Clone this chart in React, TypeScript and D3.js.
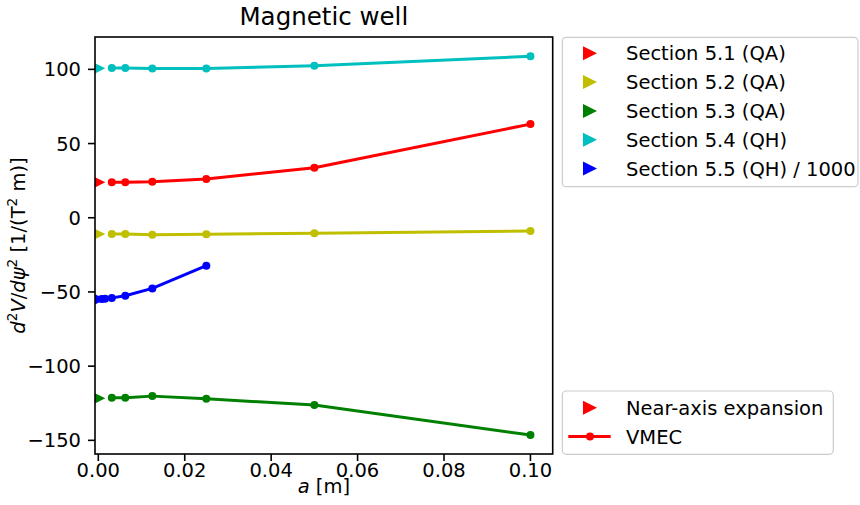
import React from "react";
import * as d3 from "d3";

const xVmec = [0.003125, 0.00625, 0.0125, 0.025, 0.05, 0.1];
const xVmecBlue = [0.00078125, 0.0015625, 0.003125, 0.00625, 0.0125, 0.025];

const sectionLabels = [
  "Section 5.1 (QA)",
  "Section 5.2 (QA)",
  "Section 5.3 (QA)",
  "Section 5.4 (QH)",
  "Section 5.5 (QH) / 1000",
];
const sectionColors = ["#ff0000", "#bfbf00", "#008000", "#00bfbf", "#0000ff"];
const nearAxis = [23.9, -11.0, -121.7, 100.7, -55.0];
const vmec51 = [23.9, 23.9, 24.3, 26.1, 33.7, 63.1];
const vmec52 = [-11.0, -11.0, -11.4, -11.1, -10.5, -9.0];
const vmec53 = [-121.3, -121.3, -120.2, -122.0, -126.2, -146.4];
const vmec54 = [100.9, 100.9, 100.6, 100.6, 102.4, 108.8];
const vmec55 = [-54.8, -54.5, -54.0, -52.6, -47.6, -32.3];

const xTicks = [0, 0.02, 0.04, 0.06, 0.08, 0.1];
const yTicks = [100, 50, 0, -50, -100, -150];

const W = 860;
const H = 505;
const L = 95, R = 552.7, T = 37, B = 454;
const FONT = "DejaVu Sans, sans-serif";
const FS = 19.5;

export default function App() {
  const x = d3.scaleLinear().domain([-0.000763, 0.10515]).range([L, R]);
  const y = d3.scaleLinear().domain([-159.2, 121.8]).range([B, T]);

  const series = [
    { xs: xVmec, ys: vmec51 },
    { xs: xVmec, ys: vmec52 },
    { xs: xVmec, ys: vmec53 },
    { xs: xVmec, ys: vmec54 },
    { xs: xVmecBlue, ys: vmec55 },
  ];
  const line = d3
    .line<[number, number]>()
    .x((d) => x(d[0]))
    .y((d) => y(d[1]));

  const tri = (cx: number, cy: number, r: number) =>
    `M${cx + r},${cy} L${cx - r},${cy - r} L${cx - r},${cy + r} Z`;

  const leg1Top = 37.3;
  const rowH = 28.8;
  const leg1Row0 = 53.3;
  const leg2Row0 = 407.7;

  return (
    <svg
      width={W}
      height={H}
      style={{ position: "absolute", left: 0, top: 0, background: "#fff" }}
      fontFamily={FONT}
    >
      <defs>
        <clipPath id="axclip">
          <rect x={L} y={T} width={R - L} height={B - T} />
        </clipPath>
      </defs>
      <rect x={0} y={0} width={W} height={H} fill="#fff" />

      <g clipPath="url(#axclip)">
        {series.map((s, i) => (
          <g key={i}>
            <path
              d={line(s.xs.map((v, j) => [v, s.ys[j]] as [number, number])) || ""}
              fill="none"
              stroke={sectionColors[i]}
              strokeWidth={3}
              strokeLinejoin="round"
            />
            {s.xs.map((v, j) => (
              <circle key={j} cx={x(v)} cy={y(s.ys[j])} r={4} fill={sectionColors[i]} />
            ))}
          </g>
        ))}
        {nearAxis.map((v, i) => (
          <path key={i} d={tri(x(0), y(v), 7)} fill={sectionColors[i]} />
        ))}
      </g>

      {/* spines */}
      <rect x={L} y={T} width={R - L} height={B - T} fill="none" stroke="#000" strokeWidth={1.6} />

      {/* x ticks */}
      {xTicks.map((t) => (
        <g key={t}>
          <line x1={x(t)} x2={x(t)} y1={B} y2={B + 7} stroke="#000" strokeWidth={1.6} />
          <text x={x(t)} y={477} textAnchor="middle" fontSize={FS} fill="#000">
            {t.toFixed(2)}
          </text>
        </g>
      ))}
      {/* y ticks */}
      {yTicks.map((t) => (
        <g key={t}>
          <line x1={L - 7} x2={L} y1={y(t)} y2={y(t)} stroke="#000" strokeWidth={1.6} />
          <text
            x={L - 14}
            y={y(t)}
            dy="0.36em"
            textAnchor="end"
            fontSize={FS}
            fill="#000"
          >
            {t < 0 ? "\u2212" + Math.abs(t) : String(t)}
          </text>
        </g>
      ))}

      {/* title */}
      <text x={(L + R) / 2} y={25} textAnchor="middle" fontSize={24.5} fill="#000">
        Magnetic well
      </text>

      {/* x label */}
      <text x={(L + R) / 2} y={493} textAnchor="middle" fontSize={FS} fill="#000">
        <tspan fontStyle="italic">a</tspan>
        <tspan> [m]</tspan>
      </text>

      {/* y label */}
      <text
        transform={`translate(25,${(T + B) / 2}) rotate(-90)`}
        textAnchor="middle"
        fontSize={FS}
        fill="#000"
      >
        <tspan fontStyle="italic">d</tspan>
        <tspan fontSize={FS * 0.7} dy={-8}>2</tspan>
        <tspan fontStyle="italic" dy={8}>V</tspan>
        <tspan>/</tspan>
        <tspan fontStyle="italic">d</tspan>
        <tspan fontStyle="italic">ψ</tspan>
        <tspan fontSize={FS * 0.7} dy={-8}>2</tspan>
        <tspan dy={8}> [1/(T</tspan>
        <tspan fontSize={FS * 0.7} dy={-8}>2</tspan>
        <tspan dy={8}> m)]</tspan>
      </text>

      {/* legend 1 */}
      <rect
        x={562.3}
        y={leg1Top}
        width={858 - 562.3}
        height={186.7 - leg1Top}
        rx={4}
        fill="#fff"
        fillOpacity={0.8}
        stroke="#cccccc"
        strokeWidth={1.2}
      />
      {sectionLabels.map((lab, i) => (
        <g key={lab}>
          <path d={tri(590, leg1Row0 + i * rowH, 7)} fill={sectionColors[i]} />
          <text x={626} y={leg1Row0 + i * rowH} dy="0.36em" fontSize={FS} fill="#000">
            {lab}
          </text>
        </g>
      ))}

      {/* legend 2 */}
      <rect
        x={562.3}
        y={391}
        width={833.3 - 562.3}
        height={454.3 - 391}
        rx={4}
        fill="#fff"
        fillOpacity={0.8}
        stroke="#cccccc"
        strokeWidth={1.2}
      />
      <path d={tri(590, leg2Row0, 7)} fill="#ff0000" />
      <text x={626} y={leg2Row0} dy="0.36em" fontSize={FS} fill="#000">
        Near-axis expansion
      </text>
      <line x1={568.3} x2={610.7} y1={leg2Row0 + rowH} y2={leg2Row0 + rowH} stroke="#ff0000" strokeWidth={3} />
      <circle cx={590} cy={leg2Row0 + rowH} r={4} fill="#ff0000" />
      <text x={626} y={leg2Row0 + rowH} dy="0.36em" fontSize={FS} fill="#000">
        VMEC
      </text>
    </svg>
  );
}
